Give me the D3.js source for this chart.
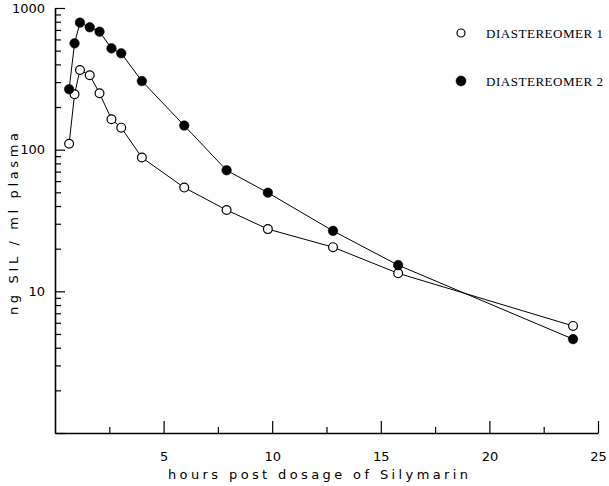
<!DOCTYPE html>
<html>
<head>
<meta charset="utf-8">
<script src="https://cdn.jsdelivr.net/npm/d3@7"></script>
<style>
  html, body { margin: 0; padding: 0; background: #fff; }
  svg { display: block; }
</style>
</head>
<body>
<svg id="chart" width="609" height="486"></svg>
<script>
// ---- data ----
const hours = [0.65, 0.9, 1.15, 1.6, 2.05, 2.6, 3.05, 4.0, 5.95, 7.9, 9.8, 12.8, 15.8, 23.85];
const diastereomer1 = [110, 246, 365, 335, 250, 164, 143, 88, 54, 37.5, 27.5, 20.5, 13.4, 5.7];
const diastereomer2 = [267, 563, 788, 731, 680, 519, 479, 305, 148, 71.5, 49.7, 26.7, 15.3, 4.6];
const seriesNames = ["DIASTEREOMER 1", "DIASTEREOMER 2"];
const xTickValues = [5, 10, 15, 20, 25];
const xMinorTicks = [2.5, 7.5, 12.5, 17.5, 22.5];
const yTickValues = [1, 10, 100, 1000];
const yTickLabels = ["", "10", "100", "1000"];
const xTitle = "hours post dosage of Silymarin";
const yTitle = "ng SIL / ml plasma";

// ---- layout ----
const svg = d3.select("#chart");
const x = d3.scaleLinear().domain([0, 25]).range([55, 598]);
const y = d3.scaleLog().domain([1, 1000]).range([433, 8]);

const yMinor = [];
[1, 10, 100].forEach(d => { for (let k = 2; k <= 9; k++) yMinor.push(d * k); });

const axisFont = "'DejaVu Sans', sans-serif";

// x axis
const gx = svg.append("g").attr("transform", `translate(0,${y(1)})`);
gx.call(d3.axisBottom(x).tickValues(xTickValues).tickSize(-12).tickSizeOuter(0).tickPadding(19));
gx.append("g").call(d3.axisBottom(x).tickValues(xMinorTicks).tickSize(-6).tickFormat(""))
  .select(".domain").remove();

// y axis
const gy = svg.append("g").attr("transform", `translate(${x(0)},0)`);
gy.call(d3.axisLeft(y).tickValues(yTickValues).tickSize(-10).tickSizeOuter(0).tickPadding(10)
  .tickFormat((d, i) => yTickLabels[i]));
gy.append("g").call(d3.axisLeft(y).tickValues(yMinor).tickSize(-6).tickFormat(""))
  .select(".domain").remove();

svg.selectAll(".domain").attr("stroke", "#000").attr("stroke-width", 1.6);
svg.selectAll(".tick line").attr("stroke", "#000").attr("stroke-width", 1.2);
svg.selectAll(".tick text").attr("fill", "#000")
  .style("font-family", axisFont).style("font-size", "13px");

// titles
svg.append("text")
  .attr("x", 318).attr("y", 479)
  .attr("text-anchor", "middle")
  .attr("textLength", 300).attr("lengthAdjust", "spacing")
  .style("font-family", axisFont).style("font-size", "13px")
  .text(xTitle);

svg.append("text")
  .attr("transform", "translate(18,224) rotate(-90)")
  .attr("text-anchor", "middle")
  .attr("textLength", 182).attr("lengthAdjust", "spacing")
  .style("font-family", axisFont).style("font-size", "13px")
  .text(yTitle);

// series
const series = [
  { name: seriesNames[0], values: diastereomer1, filled: false },
  { name: seriesNames[1], values: diastereomer2, filled: true }
];
const line = d3.line().x(d => x(d[0])).y(d => y(d[1]));

series.forEach(s => {
  const pts = hours.map((h, i) => [h, s.values[i]]);
  svg.append("path").datum(pts)
    .attr("d", line).attr("fill", "none")
    .attr("stroke", "#000").attr("stroke-width", 1);
});
series.forEach(s => {
  const pts = hours.map((h, i) => [h, s.values[i]]);
  svg.append("g").selectAll("circle").data(pts).join("circle")
    .attr("cx", d => x(d[0])).attr("cy", d => y(d[1]))
    .attr("r", s.filled ? 4.8 : 4.4)
    .attr("fill", s.filled ? "#000" : "#fff")
    .attr("stroke", "#000").attr("stroke-width", s.filled ? 0.5 : 1.2);
});

// legend
const legend = svg.append("g");
series.forEach((s, i) => {
  const cy = 33 + i * 48;
  legend.append("circle")
    .attr("cx", 461).attr("cy", cy)
    .attr("r", s.filled ? 5 : 4)
    .attr("fill", s.filled ? "#000" : "#fff")
    .attr("stroke", "#000").attr("stroke-width", s.filled ? 0.5 : 1.2);
  legend.append("text")
    .attr("x", 486).attr("y", cy + 4.5)
    .attr("textLength", 117).attr("lengthAdjust", "spacing")
    .style("font-family", "'Liberation Serif', serif").style("font-size", "13px")
    .text(s.name);
});
</script>
</body>
</html>
